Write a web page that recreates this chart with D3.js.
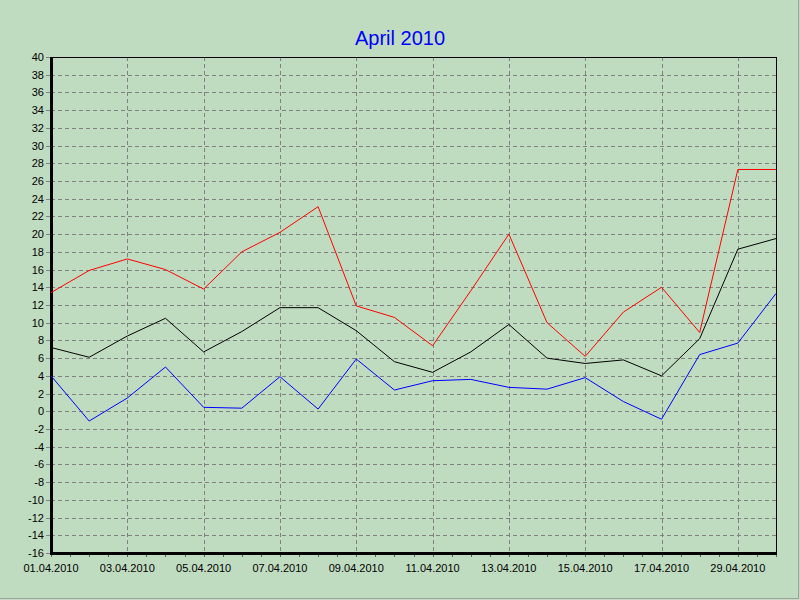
<!DOCTYPE html>
<meta charset="utf-8">
<head>
  <meta charset="utf-8">
  <title>April 2010</title>
</head>
<style>
body { margin: 0; background: #fff; }
text { font-family: 'Liberation Sans', Arial, sans-serif; }
.grid line { stroke: #808080; stroke-dasharray: 4,3; shape-rendering: crispEdges; }
</style>
<body>
<div id="chart"></div>
<script src="https://d3js.org/d3.v7.min.js"></script>
<script>

// size of the picture and plot area
var width = 800
var height = 600
var plotLeft = 51, plotRight = 776, plotTop = 57, plotBottom = 553

// data
var days = ['01.04.2010', '02.04.2010', '03.04.2010', '04.04.2010', '05.04.2010',
            '06.04.2010', '07.04.2010', '08.04.2010', '09.04.2010', '10.04.2010',
            '11.04.2010', '12.04.2010', '13.04.2010', '14.04.2010', '15.04.2010',
            '16.04.2010', '17.04.2010', '18.04.2010', '29.04.2010', '30.04.2010']
var maxTemp = [13.4, 15.9, 17.2, 16.0, 13.8, 18.0, 20.2, 23.1, 11.9, 10.6,
               7.4, 13.6, 20.0, 10.0, 6.2, 11.2, 14.0, 8.9, 27.3, 27.3]
var avgTemp = [7.2, 6.1, 8.5, 10.5, 6.7, 9.0, 11.7, 11.7, 9.1, 5.6,
               4.4, 6.7, 9.8, 6.0, 5.4, 5.8, 4.0, 8.2, 18.3, 19.5]
var minTemp = [4.0, -1.1, 1.5, 5.0, 0.45, 0.35, 3.9, 0.25, 5.9, 2.4,
               3.45, 3.6, 2.7, 2.5, 3.8, 1.1, -0.9, 6.4, 7.7, 13.3]
var yTicks = d3.range(-16, 41, 2)

var svg = d3.select('#chart')
    .append('svg')
    .attr('width', width)
    .attr('height', height)

// background and outer frame
svg.append('rect')
    .attr('width', width).attr('height', height)
    .attr('fill', '#c0dcc0')
svg.append('path')
    .attr('d', 'M' + (width - 1.5) + ',0 V' + (height - 1.5) + ' H0')
    .attr('fill', 'none')
    .attr('stroke', '#a0a0a0')
    .attr('stroke-width', 1)

var x = d3.scalePoint().domain(days).range([plotLeft, plotRight])
var y = d3.scaleLinear().domain([-16, 40]).range([plotBottom, plotTop])

// dashed grid
var grid = svg.append('g').attr('class', 'grid')
grid.selectAll('.hgrid')
    .data(yTicks.filter(function (d) { return d > -16 && d < 40 }))
    .enter().append('line')
    .attr('x1', plotLeft).attr('x2', plotRight)
    .attr('y1', function (d) { return Math.round(y(d)) + 0.5 })
    .attr('y2', function (d) { return Math.round(y(d)) + 0.5 })
grid.selectAll('.vgrid')
    .data(days.filter(function (d, i) { return i % 2 == 0 && i > 0 }))
    .enter().append('line')
    .attr('x1', function (d) { return Math.round(x(d)) + 0.5 })
    .attr('x2', function (d) { return Math.round(x(d)) + 0.5 })
    .attr('y1', plotTop).attr('y2', plotBottom)

// y axis ticks and labels
var yAxis = svg.append('g')
yAxis.selectAll('line')
    .data(yTicks)
    .enter().append('line')
    .attr('x1', plotLeft - 5).attr('x2', plotLeft)
    .attr('y1', function (d) { return Math.round(y(d)) + 0.5 })
    .attr('y2', function (d) { return Math.round(y(d)) + 0.5 })
    .attr('stroke', '#808080')
yAxis.selectAll('text')
    .data(yTicks)
    .enter().append('text')
    .attr('x', plotLeft - 7)
    .attr('y', function (d) { return y(d) + 4 })
    .attr('text-anchor', 'end')
    .attr('font-size', 11)
    .attr('fill', '#000')
    .text(function (d) { return d })

// x axis ticks at every half step, labels every second day
var step = x.step()
var xAxis = svg.append('g')
xAxis.selectAll('line')
    .data(d3.range(0, days.length - 0.5, 0.5))
    .enter().append('line')
    .attr('x1', function (d) { return Math.round(plotLeft + d * step) + 0.5 })
    .attr('x2', function (d) { return Math.round(plotLeft + d * step) + 0.5 })
    .attr('y1', plotBottom).attr('y2', plotBottom + 4)
    .attr('stroke', '#606060')
xAxis.selectAll('text')
    .data(days.filter(function (d, i) { return i % 2 == 0 }))
    .enter().append('text')
    .attr('x', function (d) { return x(d) })
    .attr('y', plotBottom + 19)
    .attr('text-anchor', 'middle')
    .attr('font-size', 11)
    .attr('fill', '#000')
    .text(function (d) { return d })

// plot frame
svg.append('rect')
    .attr('x', plotLeft + 0.5).attr('y', plotTop + 0.5)
    .attr('width', plotRight - plotLeft).attr('height', plotBottom - plotTop)
    .attr('fill', 'none')
    .attr('stroke', '#000')
    .attr('stroke-width', 1)
svg.append('path')
    .attr('d', 'M' + (plotLeft + 0.5) + ',' + plotTop + ' V' + (plotBottom + 0.5) + ' H' + (plotRight + 1))
    .attr('fill', 'none')
    .attr('stroke', '#000')
    .attr('stroke-width', 3)

// series
var line = d3.line()
    .x(function (d, i) { return x(days[i]) })
    .y(function (d) { return y(d) })

var series = [
  { values: maxTemp, color: '#ff0000' },
  { values: avgTemp, color: '#000000' },
  { values: minTemp, color: '#0000ff' }
]
svg.selectAll('.series')
    .data(series)
    .enter().append('path')
    .attr('class', 'series')
    .attr('d', function (d) { return line(d.values) })
    .attr('fill', 'none')
    .attr('stroke', function (d) { return d.color })
    .attr('stroke-width', 1)

// title
svg.append('text')
    .attr('x', 400)
    .attr('y', 45)
    .attr('text-anchor', 'middle')
    .attr('font-size', 20)
    .attr('fill', '#0000ff')
    .text('April 2010')

</script>
</body>
